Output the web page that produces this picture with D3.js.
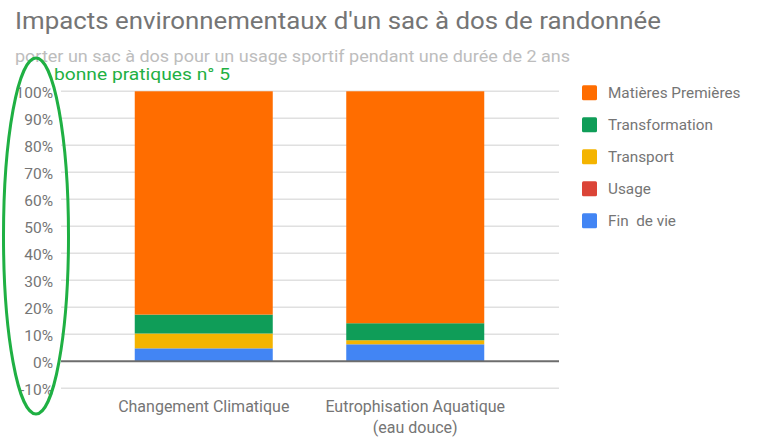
<!DOCTYPE html>
<html><head><meta charset="utf-8">
<script src="https://cdn.jsdelivr.net/npm/d3@7/dist/d3.min.js"></script>
<style>body{margin:0;background:#fff;}svg{display:block;font-family:Roboto,"Noto Sans",sans-serif;}</style>
</head><body>
<script>
const categories = [["Changement Climatique"], ["Eutrophisation Aquatique", "(eau douce)"]];
const seriesNames = ["Fin  de vie", "Usage", "Transport", "Transformation", "Matières Premières"];
const finDeVie = [4.8, 6.3];
const usage = [0, 0];
const transport = [5.5, 1.5];
const transformation = [7.0, 6.3];
const matieres = [82.7, 85.9];
const tickValues = [-10, 0, 10, 20, 30, 40, 50, 60, 70, 80, 90, 100];
const colors = ["#4285f4", "#db4437", "#f4b400", "#0f9d58", "#ff6d00"];
const legendOrder = ["Matières Premières", "Transformation", "Transport", "Usage", "Fin  de vie"];

const W = 768, H = 446;
const svg = d3.select("body").append("svg").attr("width", W).attr("height", H);

svg.append("text").attr("x", 15).attr("y", 29).attr("font-size", 24).attr("fill", "#757575")
  .attr("textLength", 646).attr("lengthAdjust", "spacingAndGlyphs")
  .text("Impacts environnementaux d'un sac à dos de randonnée");
svg.append("text").attr("x", 15).attr("y", 62).attr("font-size", 16).attr("fill", "#bdbdbd")
  .attr("textLength", 555).attr("lengthAdjust", "spacingAndGlyphs")
  .text("porter un sac à dos pour un usage sportif pendant une durée de 2 ans");

const y = d3.scaleLinear().domain([-10, 100]).range([388.3, 91.3]);
const x = d3.scaleBand().domain(categories.map((c, i) => i)).range([98, 521]).paddingInner(0.3475).paddingOuter(0.17375);
const plotL = 61, plotR = 559;

// gridlines
svg.append("g").selectAll("line").data(tickValues.filter(v => v !== 0)).join("line")
  .attr("x1", plotL).attr("x2", plotR).attr("y1", d => y(d)).attr("y2", d => y(d))
  .attr("stroke", "#e0e0e0").attr("stroke-width", 1.5);

// y axis labels
const yAxis = d3.axisLeft(y).tickValues(tickValues).tickFormat(d => d + "%").tickSize(0).tickPadding(0);
const ya = svg.append("g").attr("transform", `translate(53,0)`).call(yAxis);
ya.select(".domain").remove();
ya.selectAll("text").attr("font-size", 15.5).attr("fill", "#757575").attr("font-family", "Roboto,sans-serif").attr("dy", "0.38em");

// stacked bars
const rows = categories.map((c, i) => ({i, "Fin  de vie": finDeVie[i], "Usage": usage[i], "Transport": transport[i], "Transformation": transformation[i], "Matières Premières": matieres[i]}));
const stack = d3.stack().keys(seriesNames)(rows);
const color = d3.scaleOrdinal().domain(seriesNames).range(colors);
svg.append("g").selectAll("g").data(stack).join("g").attr("fill", d => color(d.key))
  .selectAll("rect").data(d => d).join("rect")
  .attr("x", d => x(d.data.i)).attr("width", x.bandwidth())
  .attr("y", d => y(d[1])).attr("height", d => Math.max(0, y(d[0]) - y(d[1])));

// zero line
svg.append("line").attr("x1", plotL).attr("x2", plotR).attr("y1", y(0)).attr("y2", y(0))
  .attr("stroke", "#6d6d6d").attr("stroke-width", 2);

// x labels
const xl = svg.append("g").selectAll("text").data(categories).join("text")
  .attr("x", (d, i) => x(i) + x.bandwidth() / 2).attr("y", 412)
  .attr("text-anchor", "middle").attr("font-size", 16).attr("fill", "#757575");
xl.selectAll("tspan").data(d => d).join("tspan")
  .attr("x", function() { return this.parentNode.getAttribute("x"); })
  .attr("dy", (d, j) => j === 0 ? 0 : 21).text(d => d);

// legend
const lg = svg.append("g").selectAll("g").data(legendOrder).join("g")
  .attr("transform", (d, i) => `translate(582,${92.7 + i * 32})`);
lg.append("rect").attr("x", 0).attr("y", -7.5).attr("width", 15).attr("height", 15).attr("rx", 1.5)
  .attr("fill", d => color(d));
lg.append("text").attr("x", 26).attr("y", 5.5).attr("font-size", 15.3).attr("fill", "#757575")
  .style("white-space", "pre").text(d => d);

// annotation
svg.append("ellipse").attr("cx", 36).attr("cy", 236).attr("rx", 32.5).attr("ry", 178)
  .attr("fill", "none").attr("stroke", "#1fb043").attr("stroke-width", 3);
svg.append("text").attr("x", 54).attr("y", 80).attr("font-size", 17).attr("fill", "#1fb043")
  .attr("textLength", 176).attr("lengthAdjust", "spacingAndGlyphs")
  .text("bonne pratiques n° 5");
</script>
</body></html>
